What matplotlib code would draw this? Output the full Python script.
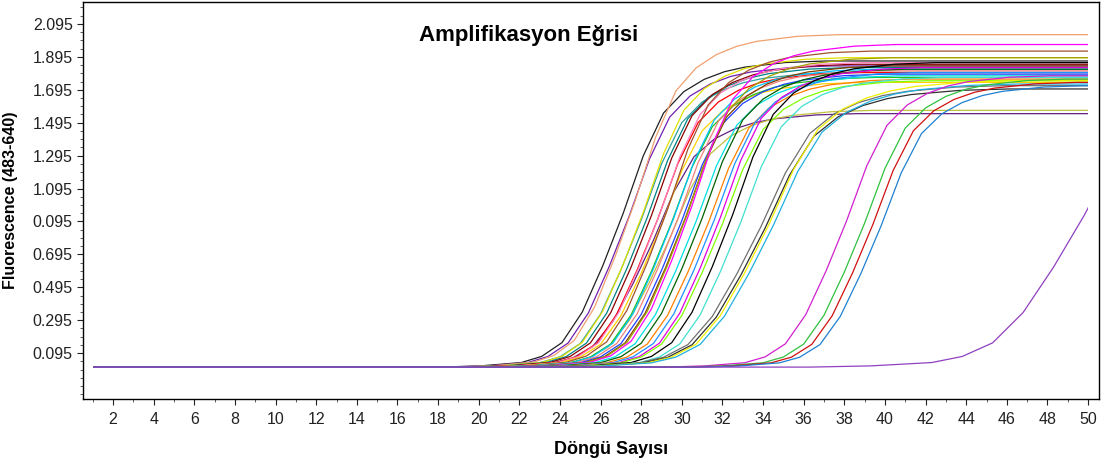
import numpy as np
import matplotlib
matplotlib.use("Agg")
from matplotlib import pyplot as plt
from matplotlib.patches import Rectangle
from matplotlib.ticker import FixedLocator, FixedFormatter, MultipleLocator

plt.rcParams['font.family'] = ['Liberation Sans', 'DejaVu Sans']

# tick labels as printed on the chart
y_ticks = [0.095, 0.295, 0.495, 0.695, 0.895, 1.095, 1.295, 1.495, 1.695, 1.895, 2.095]
y_labels = ['0.095', '0.295', '0.495', '0.695', '0.095', '1.095', '1.295', '1.495', '1.695', '1.895', '2.095']
x_ticks = list(range(2, 51, 2))

# baseline fluorescence before amplification
baseline = 0.01
first_cycle = 1
last_cycle = 50

# shared sigmoid shape (offset in cycles from half-max, fraction of plateau)
shape_offset = [-9, -7, -5, -4, -3, -2, -1, 0, 1, 2, 3, 4, 5, 6, 8, 10]
shape_frac = [0.0, 0.004, 0.015, 0.035, 0.08, 0.18, 0.33, 0.5, 0.69, 0.83, 0.90, 0.94, 0.965, 0.98, 0.995, 1.0]

# per-sample curves: half-max cycle, plateau, colour, steepness factor
mid_cycle = [27.1, 27.4, 27.7, 28.0, 28.1, 28.3, 28.5, 28.6, 28.8, 28.9,
             29.0, 29.3, 29.4, 29.5, 29.6, 29.8, 30.0, 30.2, 30.3, 30.5,
             30.7, 31.0, 31.3, 31.6, 31.9, 32.0, 32.5, 32.9, 33.9, 34.1,
             34.3, 34.5, 38.1, 39.0, 39.4, 39.8, 49.8]
plateau = [1.87, 1.84, 2.03, 1.80, 1.89, 1.83, 1.85, 1.55, 1.80, 1.86,
           1.74, 1.93, 1.57, 1.77, 1.82, 1.81, 1.79, 1.84, 1.89, 1.97,
           1.78, 1.82, 1.76, 1.80, 1.83, 1.75, 1.86, 1.77, 1.72, 1.70,
           1.75, 1.73, 1.78, 1.76, 1.74, 1.72, 1.85]
colors = ['#202020', '#7020b0', '#f0a070', '#30a0a0', '#e0e000', '#008080', '#8b0000', '#602080', '#ff0000', '#ff80c0',
          '#ffd000', '#a05030', '#c0c040', '#20c020', '#00c0ff', '#f08080', '#2040ff', '#804000', '#a0a000', '#ff00ff',
          '#00e0e0', '#006000', '#ff8000', '#1e90ff', '#e000e0', '#80ff00', '#000000', '#40e0d0', '#707070', '#303030',
          '#f0f000', '#20b0e0', '#d020d0', '#30c040', '#d01010', '#2080d0', '#9040c0']
steep = [1.0] * 28 + [1.2, 1.2, 1.2, 1.2, 1.0, 1.0, 1.0, 1.0, 1.5]

fig = plt.figure(figsize=(11.03, 4.70), dpi=100)
ax = fig.add_axes([0.0753, 0.151, 0.9211, 0.8446])

clip = Rectangle((first_cycle, -1), last_cycle - first_cycle, 4, transform=ax.transData)
off = np.array(shape_offset)
frac = np.array(shape_frac)
for m, p, c, s in zip(mid_cycle, plateau, colors, steep):
    xs = np.concatenate([[first_cycle], m + off * s, [max(last_cycle, m + off[-1] * s)]])
    ys = np.concatenate([[baseline], baseline + (p - baseline) * frac, [p]])
    line, = ax.plot(xs, ys, color=c, lw=0.9)
    line.set_clip_path(clip)

ax.set_xlim(0.52, 50.54)
ax.set_ylim(-0.184, 2.228)

ax.yaxis.set_major_locator(FixedLocator(y_ticks))
ax.yaxis.set_major_formatter(FixedFormatter(y_labels))
ax.yaxis.set_minor_locator(FixedLocator(np.arange(-0.155, 2.2, 0.05)))
ax.xaxis.set_major_locator(FixedLocator(x_ticks))
ax.xaxis.set_minor_locator(MultipleLocator(1))

ax.tick_params(axis='both', which='major', length=4, width=0.8, labelsize=11.5, colors='#222222')
ax.tick_params(axis='both', which='minor', length=2, width=0.6, colors='#444444')
ax.tick_params(axis='x', pad=5)
for sp in ax.spines.values():
    sp.set_linewidth(1.0)
    sp.set_color('black')

ax.text(0.439, 0.915, 'Amplifikasyon Eğrisi', transform=ax.transAxes, ha='center', va='center',
        fontsize=16, fontweight='bold')
ax.set_xlabel('Döngü Sayısı', fontsize=13, fontweight='bold')
ax.xaxis.set_label_coords(0.52, -0.105)
ax.set_ylabel('Fluorescence (483-640)', fontsize=11.5, fontweight='bold')
ax.yaxis.set_label_coords(-0.064, 0.5)

fig.savefig('out.png', dpi=100)
